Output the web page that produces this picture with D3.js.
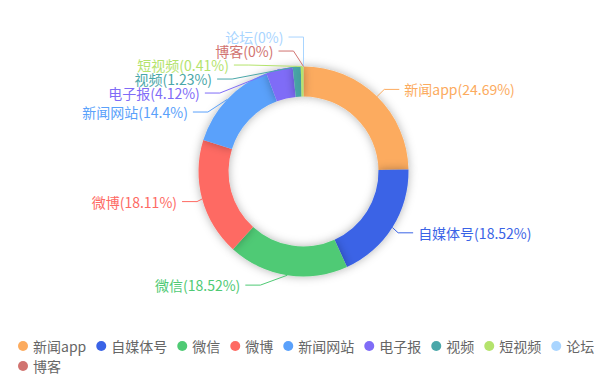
<!DOCTYPE html>
<html><head><meta charset="utf-8">
<script src="https://cdn.jsdelivr.net/npm/d3@7"></script>
<style>
html,body{margin:0;padding:0;background:#fff;}
svg{display:block;font-family:"Noto Sans CJK SC","Noto Sans",sans-serif;}
</style></head>
<body><svg id="c" width="607" height="382"></svg>
<script>
const categories = ["新闻app","自媒体号","微信","微博","新闻网站","电子报","视频","短视频","论坛","博客"];
const values = [24.69, 18.52, 18.52, 18.11, 14.4, 4.12, 1.23, 0.41, 0, 0];
const colors = ["#fcab5e","#3a63e6","#4fca74","#fe6a63","#5aa1fb","#7f6cf7","#4aa7a9","#b4e36c","#a9d5ff","#d17370"];

const W = 607, H = 382;
const cx = 303.5, cy = 171.5, R = 105, R0 = 75;
const LEN = 10, LEN2 = 15, DIST = 5, TH = 14;

const svg = d3.select("#c");
const defs = svg.append("defs");
const f = defs.append("filter").attr("id","sh").attr("filterUnits","userSpaceOnUse")
  .attr("x",-cx).attr("y",-cy).attr("width",W).attr("height",H);
f.append("feDropShadow").attr("dx",0).attr("dy",0).attr("stdDeviation",5)
  .attr("flood-color","#000").attr("flood-opacity",0.3);

const data = categories.map((c,i)=>({name:c, value:values[i], color:colors[i]}));
const pie = d3.pie().sort(null).value(d=>d.value).startAngle(0).endAngle(2*Math.PI);
const arcs = pie(data);
const arcGen = d3.arc().innerRadius(R0).outerRadius(R);

const g = svg.append("g").attr("transform",`translate(${cx},${cy})`);
g.selectAll("path.s").data(arcs.filter(a=>a.endAngle>a.startAngle)).join("path").attr("class","s")
  .attr("d",arcGen).attr("fill",d=>d.data.color).attr("filter","url(#sh)");

// label layout (pie label avoidOverlap)
const layouts = arcs.map(a=>{
  const m = (a.startAngle + a.endAngle)/2;
  const dx = Math.sin(m), dy = -Math.cos(m);
  const x3 = cx + R*dx, y3 = cy + R*dy;
  const x1 = cx + (R+LEN)*dx, y1 = cy + (R+LEN)*dy;
  const x2 = x1 + (dx<0?-1:1)*LEN2;
  const tx = x2 + (dx<0?-DIST:DIST);
  return {d:a.data, x:tx, y:y1, height:TH, len:LEN, len2:LEN2,
          pts:[[x3,y3],[x1,y1],[x2,y1]], anchor: dx<0?"end":"start"};
});

function adjustSingleSide(list, dir, viewTop, viewHeight){
  list.sort((a,b)=>a.y-b.y);
  function shiftDown(start,end,delta){
    for(let j=start;j<end;j++){
      if(list[j].y+delta > viewTop+viewHeight) break;
      list[j].y += delta;
      if(j>start && j+1<end && list[j+1].y > list[j].y + list[j].height){
        shiftUp(j, delta/2); return;
      }
    }
    shiftUp(end-1, delta/2);
  }
  function shiftUp(end,delta){
    for(let j=end;j>=0;j--){
      if(list[j].y-delta < viewTop) break;
      list[j].y -= delta;
      if(j>0 && list[j].y > list[j-1].y + list[j-1].height) break;
    }
  }
  function changeX(l, isDown){
    let last = isDown ? Number.MAX_VALUE : 0;
    for(let i=0;i<l.length;i++){
      const dY = Math.abs(l[i].y - cy);
      const rr = R + l[i].len + l[i].len2;
      let dX = dY < R + l[i].len ? Math.sqrt(rr*rr - dY*dY) : Math.abs(l[i].x - cx);
      if(isDown && dX >= last) dX = last - 10;
      if(!isDown && dX <= last) dX = last + 10;
      l[i].x = cx + dX*dir;
      last = dX;
    }
  }
  let lastY = 0;
  const n = list.length;
  for(let i=0;i<n;i++){
    const delta = list[i].y - lastY;
    if(delta<0) shiftDown(i,n,-delta);
    lastY = list[i].y + list[i].height;
  }
  if(viewHeight - lastY < 0) shiftUp(n-1, lastY - viewHeight);
  const up=[], down=[];
  list.forEach(o=>{ if(o.y>=cy) down.push(o); else up.push(o); });
  changeX(up,false); changeX(down,true);
}
const leftL = layouts.filter(o=>o.x<cx), rightL = layouts.filter(o=>o.x>=cx);
adjustSingleSide(rightL, 1, 0, H);
adjustSingleSide(leftL, -1, 0, H);
layouts.forEach(o=>{
  const p = o.pts;
  const dist = p[1][0]-p[2][0];
  p[2][0] = o.x < cx ? o.x + DIST : o.x - DIST;
  p[1][0] = p[2][0] + dist;
  p[1][1] = p[2][1] = o.y;
});

const lg = svg.append("g");
lg.selectAll("polyline").data(layouts).join("polyline")
  .attr("points",o=>o.pts.map(p=>p.join(",")).join(" "))
  .attr("fill","none").attr("stroke",o=>o.d.color).attr("stroke-width",1);
lg.selectAll("text").data(layouts).join("text")
  .attr("x",o=>o.x).attr("y",o=>o.y).attr("text-anchor",o=>o.anchor)
  .attr("dominant-baseline","central").attr("font-size",14)
  .attr("fill",o=>o.d.color)
  .text(o=>`${o.d.name}(${o.d.value}%)`);

// legend
const legend = svg.append("g");
const L0 = 18, rowY = [346, 366], ICON = 10, GAP = 10, TXTGAP = 5;
let lx = L0, row = 0;
data.forEach(d=>{
  const it = legend.append("g");
  const t = it.append("text").attr("font-size",14).attr("fill","#666")
    .attr("dominant-baseline","central").text(d.name);
  const tw = t.node().getComputedTextLength();
  const w = ICON + TXTGAP + tw;
  if(lx + w > W - 5 && lx > L0){ row++; lx = L0; }
  const y = rowY[row] !== undefined ? rowY[row] : rowY[0] + row*20;
  it.insert("circle","text").attr("cx",lx+ICON/2).attr("cy",y).attr("r",ICON/2).attr("fill",d.color);
  t.attr("x",lx+ICON+TXTGAP).attr("y",y);
  lx += w + GAP;
});
</script></body></html>
